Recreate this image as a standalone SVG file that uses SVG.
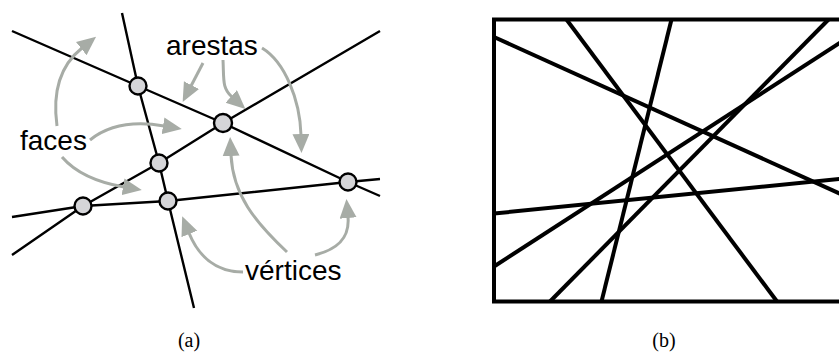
<svg xmlns="http://www.w3.org/2000/svg" width="839" height="358" viewBox="0 0 839 358">
<style>
.ln{fill:none;stroke:#000;stroke-width:2.4;stroke-linecap:butt;stroke-linejoin:round}
.bl{fill:none;stroke:#000;stroke-width:4}
.ar{fill:none;stroke:#a7aca6;stroke-width:3;marker-end:url(#ah)}
.v{fill:#d5d5d8;stroke:#000;stroke-width:2.4}
.lbl{font-family:"Liberation Sans",Arial,sans-serif;font-size:28px;fill:#000}
.cap{font-family:"Liberation Serif","DejaVu Serif",serif;font-size:20px;fill:#000;text-anchor:middle}
</style>
<defs>
<marker id="ah" markerUnits="userSpaceOnUse" markerWidth="22" markerHeight="18" refX="1" refY="8.5" orient="auto">
<path d="M0,0 L19,8.5 L0,17 z" fill="#a7aca6"/>
</marker>
</defs>
<rect width="839" height="358" fill="#fff"/>
<g id="panel-a">
<g id="connectors">
<polyline class="ln" points="122,13 138,86 159,163 168,201 194,308"/>
<polyline class="ln" points="12,31 138,86 223,123 348,182 380,196"/>
<polyline class="ln" points="12,255 83,206 159,163 223,123 380,31"/>
<polyline class="ln" points="12,217 83,206 168,201 348,182 380,179"/>
</g>
<g id="arrows">
<path class="ar" d="M57,126 C52,90 62,64 82,48"/>
<path class="ar" d="M90,140 C110,124 135,121 164,126"/>
<path class="ar" d="M62,157 C75,172 95,182 124,187"/>
<path class="ar" d="M203,63 L191,86"/>
<path class="ar" d="M223,60 C224,80 222,88 232,97"/>
<path class="ar" d="M262,48 C285,62 300,100 301,135"/>
<path class="ar" d="M243,272 C215,272 198,255 189,233"/>
<path class="ar" d="M287,252 C255,222 233,195 231,155"/>
<path class="ar" d="M315,255 C335,250 350,240 348,217"/>
</g>
<g id="v1"><circle class="v" cx="138" cy="86" r="8.5"/></g>
<g id="v2"><circle class="v" cx="223" cy="123" r="9"/></g>
<g id="v3"><circle class="v" cx="159" cy="163" r="8.5"/></g>
<g id="v4"><circle class="v" cx="83" cy="206" r="8.5"/></g>
<g id="v5"><circle class="v" cx="168" cy="201" r="8.5"/></g>
<g id="v6"><circle class="v" cx="348" cy="182" r="8.5"/></g>
<g id="label-arestas"><text class="lbl" x="166" y="55">arestas</text></g>
<g id="label-faces"><text class="lbl" x="20" y="150">faces</text></g>
<g id="label-vertices"><text class="lbl" x="245" y="280">vértices</text></g>
<text class="cap" x="189" y="347">(a)</text>
</g>
<g id="panel-b">
<rect class="bl" x="494" y="19.5" width="360" height="282"/>
<line class="bl" x1="494" y1="37" x2="845" y2="196"/>
<line class="bl" x1="566.5" y1="19.5" x2="777" y2="301.5"/>
<line class="bl" x1="671.5" y1="19.5" x2="601.5" y2="301.5"/>
<line class="bl" x1="828.5" y1="19.5" x2="550" y2="301.5"/>
<line class="bl" x1="845" y1="39.5" x2="494" y2="266.5"/>
<line class="bl" x1="494" y1="213.5" x2="845" y2="178.5"/>
<text class="cap" x="664" y="347">(b)</text>
</g>
</svg>
